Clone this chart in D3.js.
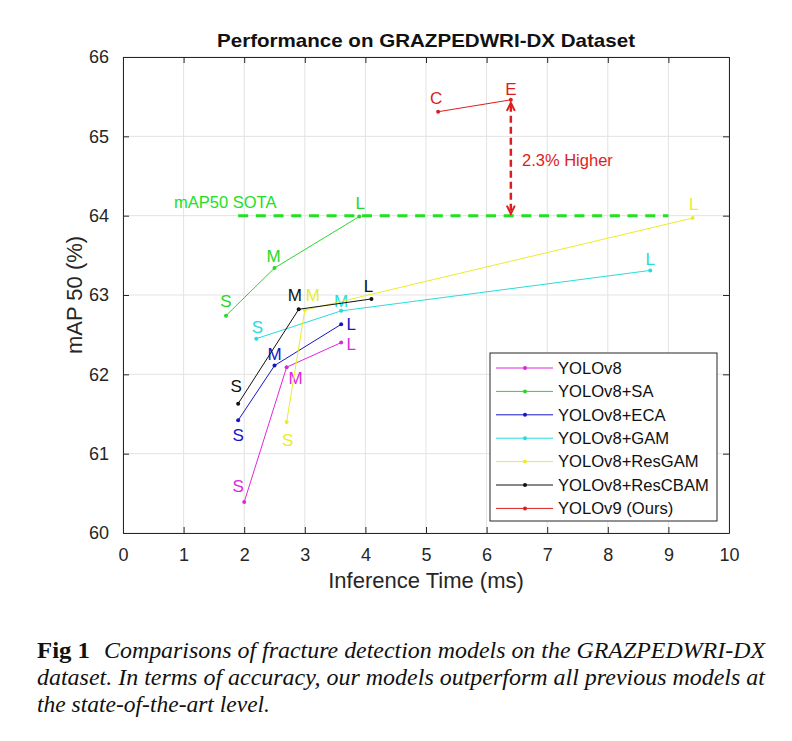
<!DOCTYPE html>
<html>
<head>
<meta charset="utf-8">
<script src="https://cdn.jsdelivr.net/npm/d3@7"></script>
<style>
  body { margin: 0; background: #fff; }
  svg { display: block; }
  .sans { font-family: "Liberation Sans", Arial, Helvetica, sans-serif; }
  .serif { font-family: "Liberation Serif", "Times New Roman", serif; }
</style>
</head>
<body>
<div id="container"></div>
<script>
/* DATA */
const seriesNames = ["YOLOv8", "YOLOv8+SA", "YOLOv8+ECA", "YOLOv8+GAM", "YOLOv8+ResGAM", "YOLOv8+ResCBAM", "YOLOv9 (Ours)"];
const sizeLabels = [["S", "M", "L"], ["S", "M", "L"], ["S", "M", "L"], ["S", "M", "L"], ["S", "M", "L"], ["S", "M", "L"], ["C", "E"]];

// inference time (ms)
const timeYolov8 = [2.0, 2.7, 3.6];
const timeSA = [1.7, 2.5, 3.9];
const timeECA = [1.9, 2.5, 3.6];
const timeGAM = [2.2, 3.6, 8.7];
const timeResGAM = [2.7, 3.0, 9.4];
const timeResCBAM = [1.9, 2.9, 4.1];
const timeYolov9 = [5.2, 6.4];

// mAP 50 (%)
const mapYolov8 = [60.39, 62.09, 62.40];
const mapSA = [62.74, 63.34, 63.99];
const mapECA = [61.42, 62.11, 62.63];
const mapGAM = [62.45, 62.80, 63.31];
const mapResGAM = [61.40, 62.81, 63.97];
const mapResCBAM = [61.63, 62.82, 62.95];
const mapYolov9 = [65.31, 65.46];

const sotaValue = 64.0;
const sotaRange = [1.9, 9.0];
const xTicks = [0, 1, 2, 3, 4, 5, 6, 7, 8, 9, 10];
const yTicks = [60, 61, 62, 63, 64, 65, 66];

/* CONSTANTS AND GLOBALS */
const width = 792;
const height = 741;
const margin = { left: 123, right: 63, top: 57, bottom: 208 };

const colors = ["#dc28dc", "#28d828", "#1414c8", "#28dcdc", "#ecec28", "#111111", "#dc1e1e"];

// label offsets from the point (px), one per point
const labelShift = [
    [[-6, -16], [9, 11], [10, 1]],
    [[0, -15], [-1, -12], [1, -13]],
    [[0, 15], [0, -12], [10, 0]],
    [[1, -12], [0, -10], [0, -11]],
    [[1, 18], [8, -15], [1, -14]],
    [[-2, -18], [-4, -14], [-3, -13]],
    [[-2, -14], [0, -11]]
];

const times = [timeYolov8, timeSA, timeECA, timeGAM, timeResGAM, timeResCBAM, timeYolov9];
const maps = [mapYolov8, mapSA, mapECA, mapGAM, mapResGAM, mapResCBAM, mapYolov9];
const series = seriesNames.map((name, i) => ({
    name: name,
    color: colors[i],
    points: times[i].map((t, j) => ({ t: t, m: maps[i][j], label: sizeLabels[i][j], shift: labelShift[i][j] }))
}));

/* HTML ELEMENTS */
const svg = d3.select("#container")
    .append("svg")
    .attr("width", width)
    .attr("height", height)
    .attr("class", "sans")

/* SCALES */
const xScale = d3.scaleLinear()
    .domain([0, 10])
    .range([margin.left, width - margin.right])

const yScale = d3.scaleLinear()
    .domain([60, 66])
    .range([height - margin.bottom, margin.top])

// grid
svg.append("g")
    .selectAll("line")
    .data(xTicks)
    .join("line")
    .attr("x1", d => xScale(d)).attr("x2", d => xScale(d))
    .attr("y1", yScale(60)).attr("y2", yScale(66))
    .attr("stroke", "#e3e3e3")

svg.append("g")
    .selectAll("line")
    .data(yTicks)
    .join("line")
    .attr("y1", d => yScale(d)).attr("y2", d => yScale(d))
    .attr("x1", xScale(0)).attr("x2", xScale(10))
    .attr("stroke", "#e3e3e3")

/* AXES */
const axisColor = "#262626";
const tickLen = 6;
const fmt = d3.format("d");

const xAxis = d3.axisBottom(xScale).tickValues(xTicks).tickFormat(fmt).tickSizeInner(-tickLen).tickSizeOuter(0).tickPadding(15)
svg.append("g")
    .attr("class", "axis")
    .attr("transform", `translate(0,${yScale(60)})`)
    .call(xAxis)

const xAxisTop = d3.axisTop(xScale).tickValues(xTicks).tickSizeInner(-tickLen).tickSizeOuter(0).tickFormat("")
svg.append("g")
    .attr("class", "axis")
    .attr("transform", `translate(0,${yScale(66)})`)
    .call(xAxisTop)

const yAxis = d3.axisLeft(yScale).tickValues(yTicks).tickFormat(fmt).tickSizeInner(-tickLen).tickSizeOuter(0).tickPadding(14)
svg.append("g")
    .attr("class", "axis")
    .attr("transform", `translate(${xScale(0)},0)`)
    .call(yAxis)

const yAxisRight = d3.axisRight(yScale).tickValues(yTicks).tickSizeInner(-tickLen).tickSizeOuter(0).tickFormat("")
svg.append("g")
    .attr("class", "axis")
    .attr("transform", `translate(${xScale(10)},0)`)
    .call(yAxisRight)

svg.selectAll(".axis path").attr("stroke", axisColor)
svg.selectAll(".axis line").attr("stroke", axisColor)
svg.selectAll(".axis text")
    .attr("fill", "#262626")
    .style("font-size", "18px")
    .style("font-family", "'Liberation Sans', Arial, sans-serif")

// TITLE AND AXIS LABELS
svg.append("text")
    .attr("x", (xScale(0) + xScale(10)) / 2)
    .attr("y", 47)
    .attr("text-anchor", "middle")
    .style("font-size", "19px")
    .style("font-weight", "bold")
    .attr("textLength", 418)
    .attr("lengthAdjust", "spacingAndGlyphs")
    .attr("fill", "#111")
    .text("Performance on GRAZPEDWRI-DX Dataset")

svg.append("text")
    .attr("x", (xScale(0) + xScale(10)) / 2)
    .attr("y", 588)
    .attr("text-anchor", "middle")
    .style("font-size", "22px")
    .attr("fill", "#262626")
    .text("Inference Time (ms)")

svg.append("text")
    .attr("transform", `translate(82,${(yScale(60) + yScale(66)) / 2}) rotate(-90)`)
    .attr("text-anchor", "middle")
    .style("font-size", "22px")
    .attr("fill", "#262626")
    .text("mAP 50 (%)")

// SOTA LINE
svg.append("line")
    .attr("x1", xScale(sotaRange[0])).attr("x2", xScale(sotaRange[1]))
    .attr("y1", yScale(sotaValue)).attr("y2", yScale(sotaValue))
    .attr("stroke", "#22e022")
    .attr("stroke-width", 3)
    .attr("stroke-dasharray", "10,7.7")

svg.append("text")
    .attr("x", 174)
    .attr("y", 208)
    .style("font-size", "16.5px")
    .attr("fill", "#22e022")
    .text("mAP50 SOTA")

// SERIES LINES
const line = d3.line().x(d => xScale(d.t)).y(d => yScale(d.m))

const groups = svg.selectAll("g.series")
    .data(series)
    .join("g")
    .attr("class", "series")

groups.append("path")
    .attr("d", d => line(d.points))
    .attr("fill", "none")
    .attr("stroke", d => d.color)
    .attr("stroke-width", 1)

groups.selectAll("circle")
    .data(d => d.points.map(p => ({ ...p, color: d.color })))
    .join("circle")
    .attr("cx", d => xScale(d.t))
    .attr("cy", d => yScale(d.m))
    .attr("r", 2)
    .attr("fill", d => d.color)

groups.selectAll("text")
    .data(d => d.points.map(p => ({ ...p, color: d.color })))
    .join("text")
    .attr("x", d => xScale(d.t) + d.shift[0])
    .attr("y", d => yScale(d.m) + d.shift[1] + 6)
    .attr("text-anchor", "middle")
    .style("font-size", "17px")
    .attr("fill", d => d.color)
    .text(d => d.label)

// ARROW (YOLOv9-E vs SOTA)
const arrowX = xScale(timeYolov9[1]);
const arrowTop = yScale(mapYolov9[1]) + 3;
const arrowBottom = yScale(sotaValue) - 2;
const red = "#dc1e1e";
svg.append("line")
    .attr("x1", arrowX).attr("x2", arrowX)
    .attr("y1", arrowTop + 2).attr("y2", arrowBottom - 2)
    .attr("stroke", red)
    .attr("stroke-width", 2.5)
    .attr("stroke-dasharray", "7,4")
svg.append("path")
    .attr("d", `M${arrowX - 4},${arrowTop + 8} L${arrowX},${arrowTop} L${arrowX + 4},${arrowTop + 8}`)
    .attr("fill", "none").attr("stroke", red).attr("stroke-width", 2)
svg.append("path")
    .attr("d", `M${arrowX - 4},${arrowBottom - 8} L${arrowX},${arrowBottom} L${arrowX + 4},${arrowBottom - 8}`)
    .attr("fill", "none").attr("stroke", red).attr("stroke-width", 2)

svg.append("text")
    .attr("x", 522)
    .attr("y", 166)
    .style("font-size", "16.5px")
    .attr("fill", red)
    .text("2.3% Higher")

// LEGEND
const legend = svg.append("g")
legend.append("rect")
    .attr("x", 490).attr("y", 353)
    .attr("width", 227).attr("height", 168)
    .attr("fill", "#fff")
    .attr("stroke", "#262626")

const rows = legend.selectAll("g.row")
    .data(series)
    .join("g")
    .attr("class", "row")
    .attr("transform", (d, i) => `translate(0,${368 + i * 23.4})`)

rows.append("line")
    .attr("x1", 496).attr("x2", 553)
    .attr("stroke", d => d.color)
rows.append("circle")
    .attr("cx", 525).attr("r", 2)
    .attr("fill", d => d.color)
rows.append("text")
    .attr("x", 558)
    .attr("dy", "0.35em")
    .style("font-size", "16.6px")
    .attr("fill", "#111")
    .text(d => d.name)

// CAPTION
const caption = svg.append("g")
    .attr("class", "serif")
    .style("font-size", "24px")
    .attr("fill", "#111")

caption.append("text")
    .attr("x", 37).attr("y", 658)
    .style("font-weight", "bold")
    .attr("textLength", 53)
    .attr("lengthAdjust", "spacingAndGlyphs")
    .text("Fig 1")
caption.append("text")
    .attr("x", 104).attr("y", 658)
    .style("font-style", "italic")
    .attr("textLength", 661)
    .attr("lengthAdjust", "spacingAndGlyphs")
    .text("Comparisons of fracture detection models on the GRAZPEDWRI-DX")
caption.append("text")
    .attr("x", 37).attr("y", 685)
    .style("font-style", "italic")
    .attr("textLength", 728)
    .attr("lengthAdjust", "spacingAndGlyphs")
    .text("dataset. In terms of accuracy, our models outperform all previous models at")
caption.append("text")
    .attr("x", 37).attr("y", 712)
    .style("font-style", "italic")
    .attr("textLength", 233)
    .attr("lengthAdjust", "spacingAndGlyphs")
    .text("the state-of-the-art level.")
</script>
</body>
</html>
